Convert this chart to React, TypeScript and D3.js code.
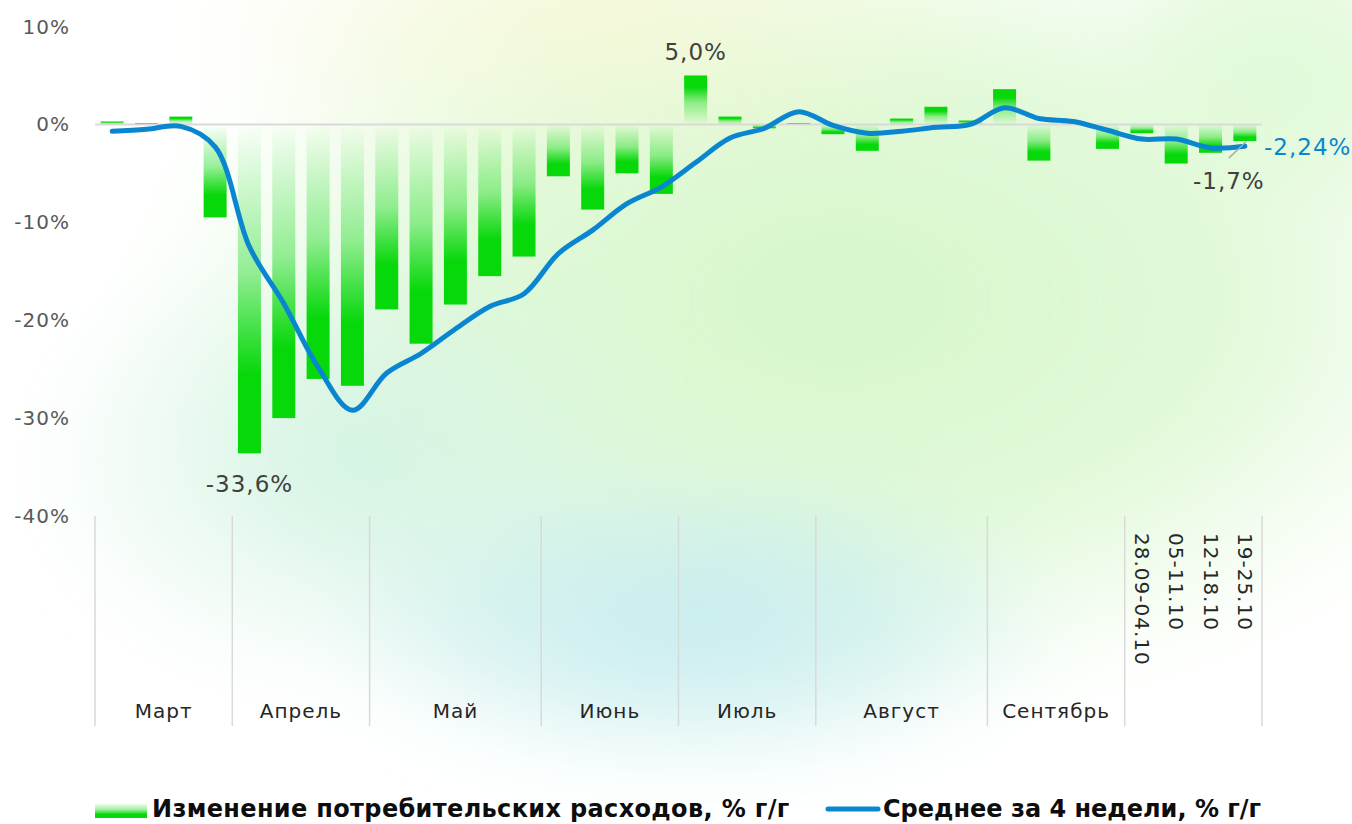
import React from 'react';
import * as d3 from 'd3';

// weekly consumer spending, % y/y
const months = ['Март', 'Апрель', 'Май', 'Июнь', 'Июль', 'Август', 'Сентябрь'];
const monthWeeks = [4, 4, 5, 4, 4, 5, 4];
const octoberWeeks = ['28.09-04.10', '05-11.10', '12-18.10', '19-25.10'];

const weeklyChange = [
  0.3, 0.1, 0.8, -9.5,
  -33.6, -30.0, -26.0, -26.7,
  -18.9, -22.4, -18.4, -15.5, -13.5,
  -5.3, -8.7, -5.0, -7.1,
  5.0, 0.8, -0.4, 0.1,
  -1.0, -2.7, 0.6, 1.8, 0.4,
  3.6, -3.7, 0.3, -2.5,
  -0.9, -4.0, -2.9, -1.7,
];

const avg4w = [
  -0.7, -0.5, -0.2, -2.3,
  -12.5, -18.3, -24.8, -29.2,
  -25.4, -23.4, -20.9, -18.6, -17.3,
  -13.2, -10.8, -8.1, -6.4,
  -3.9, -1.4, -0.4, 1.3,
  -0.1, -0.9, -0.7, -0.3, 0.0,
  1.7, 0.6, 0.3, -0.6,
  -1.5, -1.5, -2.4, -2.24,
];

const yTicks = [10, 0, -10, -20, -30, -40];

const W = 1352;
const H = 824;
const GREEN = '#07d80a';
const BLUE = '#0a86d0';
const FONT = '"DejaVu Sans", sans-serif';

const App = () => {
  const x = d3
    .scaleBand<number>()
    .domain(weeklyChange.map((_, i) => i))
    .range([95, 1262])
    .paddingInner(0.33)
    .paddingOuter(0.165);
  const y = d3.scaleLinear().domain([-40, 10]).range([516, 26.5]);
  const step = x.step();
  const cx = (i: number) => (x(i) as number) + x.bandwidth() / 2;

  const line = d3
    .line<number>()
    .x((_, i) => cx(i))
    .y(d => y(d))
    .curve(d3.curveCatmullRom.alpha(0.5));

  // group boundaries on the category axis
  const bounds: number[] = [0];
  monthWeeks.forEach(n => bounds.push(bounds[bounds.length - 1] + n));
  bounds.push(weeklyChange.length);
  const bx = (idx: number) => 95 + step * idx;

  const last = weeklyChange.length - 1;
  const minIdx = weeklyChange.indexOf(d3.min(weeklyChange) as number);
  const maxIdx = weeklyChange.indexOf(d3.max(weeklyChange) as number);
  const fmt = (v: number, d = 1) => v.toFixed(d).replace('.', ',') + '%';

  return (
    <svg width={W} height={H} style={{ position: 'absolute', left: 0, top: 0 }}>
      <defs>
        <linearGradient id="negBar" x1="0" y1="0" x2="0" y2="1">
          <stop offset="0" stopColor={GREEN} stopOpacity="0" />
          <stop offset="0.45" stopColor={GREEN} stopOpacity="0.4" />
          <stop offset="0.76" stopColor={GREEN} stopOpacity="1" />
          <stop offset="1" stopColor={GREEN} stopOpacity="1" />
        </linearGradient>
        <linearGradient id="posBar" x1="0" y1="1" x2="0" y2="0">
          <stop offset="0" stopColor={GREEN} stopOpacity="0" />
          <stop offset="0.45" stopColor={GREEN} stopOpacity="0.4" />
          <stop offset="0.76" stopColor={GREEN} stopOpacity="1" />
          <stop offset="1" stopColor={GREEN} stopOpacity="1" />
        </linearGradient>
        <radialGradient id="bgGreen">
          <stop offset="0" stopColor="#d6f7cb" />
          <stop offset="0.55" stopColor="#dcf8d2" stopOpacity="0.85" />
          <stop offset="1" stopColor="#e6fadf" stopOpacity="0" />
        </radialGradient>
        <radialGradient id="bgYellow">
          <stop offset="0" stopColor="#f4f8d6" />
          <stop offset="1" stopColor="#f4f8d6" stopOpacity="0" />
        </radialGradient>
        <radialGradient id="bgCyan">
          <stop offset="0" stopColor="#c6edf0" />
          <stop offset="0.55" stopColor="#cbeeee" stopOpacity="0.7" />
          <stop offset="1" stopColor="#d0f0ee" stopOpacity="0" />
        </radialGradient>
        <radialGradient id="bgTeal">
          <stop offset="0" stopColor="#d2f3e2" />
          <stop offset="1" stopColor="#d6f4e4" stopOpacity="0" />
        </radialGradient>
        <filter id="soft" x="-20%" y="-20%" width="140%" height="140%">
          <feGaussianBlur stdDeviation="35" />
        </filter>
      </defs>

      {/* soft background */}
      <rect width={W} height={H} fill="#ffffff" />
      <g filter="url(#soft)">
        <ellipse cx={840} cy={300} rx={720} ry={420} fill="url(#bgGreen)" />
        <ellipse cx={1300} cy={60} rx={220} ry={180} fill="url(#bgGreen)" opacity={0.7} />
        <ellipse cx={360} cy={460} rx={340} ry={240} fill="url(#bgTeal)" />
        <ellipse cx={600} cy={20} rx={420} ry={150} fill="url(#bgYellow)" />
        <ellipse cx={690} cy={620} rx={380} ry={160} fill="url(#bgCyan)" />
      </g>

      {/* y tick labels */}
      {yTicks.map(t => (
        <text
          key={t}
          x={70}
          y={y(t)}
          textAnchor="end"
          dominantBaseline="central"
          fontFamily={FONT}
          fontSize={20}
          letterSpacing={1}
          fill="#595959"
        >
          {t}%
        </text>
      ))}

      {/* zero line */}
      <line x1={95} x2={1262} y1={y(0)} y2={y(0)} stroke="#d9d9d9" strokeWidth={2} />

      {/* category axis separators */}
      {bounds.map(b => (
        <line key={b} x1={bx(b)} x2={bx(b)} y1={516} y2={726} stroke="#d9d9d9" strokeWidth={1.5} />
      ))}
      {months.map((m, k) => (
        <text
          key={m}
          x={(bx(bounds[k]) + bx(bounds[k + 1])) / 2}
          y={718}
          textAnchor="middle"
          fontFamily={FONT}
          fontSize={20}
          letterSpacing={1}
          fill="#262626"
        >
          {m}
        </text>
      ))}
      {octoberWeeks.map((lbl, k) => {
        const i = bounds[bounds.length - 2] + k;
        return (
          <text
            key={lbl}
            transform={`translate(${cx(i)},533) rotate(90)`}
            dominantBaseline="central"
            fontFamily={FONT}
            fontSize={20}
            letterSpacing={1}
            fill="#262626"
          >
            {lbl}
          </text>
        );
      })}

      {/* bars */}
      {weeklyChange.map((v, i) => (
        <rect
          key={i}
          x={x(i)}
          width={x.bandwidth()}
          y={v >= 0 ? y(v) : y(0)}
          height={Math.abs(y(v) - y(0))}
          fill={v >= 0 ? 'url(#posBar)' : 'url(#negBar)'}
        />
      ))}

      {/* 4-week average */}
      <path d={line(avg4w) || ''} fill="none" stroke={BLUE} strokeWidth={5} strokeLinecap="round" />

      {/* data labels */}
      <text x={cx(minIdx)} y={y(weeklyChange[minIdx]) + 39} textAnchor="middle" fontFamily={FONT} fontSize={23} letterSpacing={1} fill="#404040">
        {fmt(weeklyChange[minIdx])}
      </text>
      <text x={cx(maxIdx)} y={60} textAnchor="middle" fontFamily={FONT} fontSize={23} letterSpacing={1} fill="#404040">
        {fmt(weeklyChange[maxIdx])}
      </text>
      <line x1={cx(last) - 16} y1={158} x2={cx(last) + 1} y2={142} stroke="#a6a6a6" strokeWidth={1.5} />
      <text x={cx(last) - 16} y={189} textAnchor="middle" fontFamily={FONT} fontSize={23} letterSpacing={1} fill="#404040">
        {fmt(weeklyChange[last])}
      </text>
      <text x={1264} y={155} fontFamily={FONT} fontSize={23} letterSpacing={1} fill={BLUE}>
        {fmt(avg4w[last], 2)}
      </text>

      {/* legend */}
      <rect x={95} y={803} width={52} height={15} fill="url(#negBar)" />
      <text x={152} y={817} fontFamily={FONT} fontWeight="bold" fontSize={24} letterSpacing={0.35} fill="#0d0d0d">
        Изменение потребительских расходов, % г/г
      </text>
      <line x1={828} x2={878} y1={809} y2={809} stroke={BLUE} strokeWidth={5} strokeLinecap="round" />
      <text x={883} y={817} fontFamily={FONT} fontWeight="bold" fontSize={24} fill="#0d0d0d">
        Среднее за 4 недели, % г/г
      </text>
    </svg>
  );
};

export default App;
